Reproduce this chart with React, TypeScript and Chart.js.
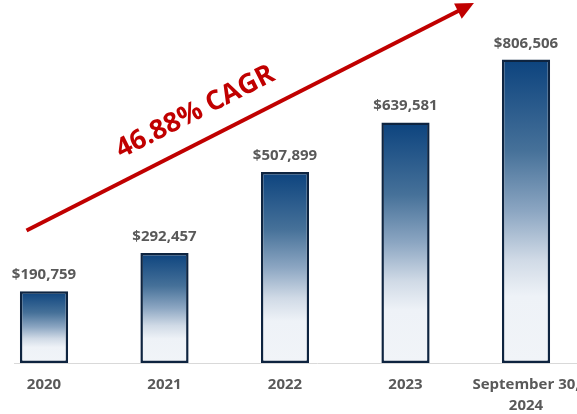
import React, { useEffect, useRef } from "react";
import { Chart, registerables } from "chart.js";

Chart.register(...registerables);

const categories: string[][] = [["2020"], ["2021"], ["2022"], ["2023"], ["September 30,", "2024"]];
const values: number[] = [190759, 292457, 507899, 639581, 806506];
const cagrLabel = "46.88% CAGR";

// annotation anchors in data coordinates (x = category index, y = value)
const arrowStart = { x: -0.145, y: 352000 };
const arrowEnd = { x: 3.568, y: 957000 };
const cagrTextAt = { x: 1.255, y: 667000 };

const RED = "#c00000";
const GRAY = "#595959";

const fmt = (v: number) => "$" + v.toLocaleString("en-US");

const labelsPlugin = {
  id: "barLabels",
  afterDatasetsDraw(chart: any) {
    const ctx = chart.ctx;
    const meta = chart.getDatasetMeta(0);
    ctx.save();
    ctx.font = "bold 15px 'Open Sans'";
    ctx.fillStyle = GRAY;
    ctx.textAlign = "center";
    ctx.textBaseline = "alphabetic";
    meta.data.forEach((bar: any, i: number) => {
      ctx.fillText(fmt(values[i]), bar.x, bar.y - 12);
    });
    ctx.restore();
  },
};

const cagrPlugin = {
  id: "cagrArrow",
  afterDraw(chart: any) {
    const { ctx, scales } = chart;
    const x = scales.x, y = scales.y;
    const x1 = x.getPixelForValue(arrowStart.x), y1 = y.getPixelForValue(arrowStart.y);
    const x2 = x.getPixelForValue(arrowEnd.x), y2 = y.getPixelForValue(arrowEnd.y);
    const ang = Math.atan2(y2 - y1, x2 - x1);
    const headLen = 18, headHalf = 8.5;
    const bx = x2 - headLen * Math.cos(ang), by = y2 - headLen * Math.sin(ang);
    ctx.save();
    ctx.strokeStyle = RED;
    ctx.fillStyle = RED;
    ctx.lineWidth = 4;
    ctx.beginPath();
    ctx.moveTo(x1, y1);
    ctx.lineTo(bx + 2 * Math.cos(ang), by + 2 * Math.sin(ang));
    ctx.stroke();
    ctx.beginPath();
    ctx.moveTo(x2, y2);
    ctx.lineTo(bx - headHalf * Math.sin(ang), by + headHalf * Math.cos(ang));
    ctx.lineTo(bx + headHalf * Math.sin(ang), by - headHalf * Math.cos(ang));
    ctx.closePath();
    ctx.fill();
    const tx = x.getPixelForValue(cagrTextAt.x), ty = y.getPixelForValue(cagrTextAt.y);
    ctx.translate(tx, ty);
    ctx.rotate(ang);
    ctx.font = "bold 27px 'Open Sans'";
    ctx.textAlign = "center";
    ctx.textBaseline = "middle";
    ctx.fillText(cagrLabel, 0, 0);
    ctx.restore();
  },
};

export default function App() {
  const ref = useRef<HTMLCanvasElement | null>(null);
  useEffect(() => {
    document.body.style.overflow = "hidden";
    document.documentElement.style.overflow = "hidden";
    const canvas = ref.current!;
    const chart = new Chart(canvas, {
      type: "bar",
      data: {
        datasets: [
          {
            data: values.map((v, i) => ({ x: i, y: v })),
            backgroundColor: (c: any) => {
              if (c.type !== "data") return "#1f4e79";
              const ch = c.chart;
              const ys = ch.scales && ch.scales.y;
              if (!ys) return "#1f4e79";
              const top = ys.getPixelForValue(values[c.dataIndex]);
              const bot = ys.getPixelForValue(0);
              if (!isFinite(top) || !isFinite(bot) || top === bot) return "#1f4e79";
              const g = ch.ctx.createLinearGradient(0, top, 0, bot);
              g.addColorStop(0, "#0c437e");
              g.addColorStop(0.3, "#467199");
              g.addColorStop(0.5, "#8ca6c2");
              g.addColorStop(0.66, "#d0dae6");
              g.addColorStop(0.78, "#eef2f7");
              g.addColorStop(1, "#f1f4f8");
              return g;
            },
            borderColor: "#0e2440",
            borderWidth: 2.5,
            borderSkipped: false,
            barPercentage: 0.4,
            categoryPercentage: 1,
          },
        ],
      },
      options: {
        responsive: false,
        animation: false,
        layout: { padding: { left: 14, right: 0, top: 0, bottom: 0 } },
        plugins: { legend: { display: false }, tooltip: { enabled: false } },
        scales: {
          x: {
            type: "linear",
            min: -0.249,
            max: 4.78,
            offset: false,
            grid: { display: false, drawTicks: false },
            border: { display: true, color: "#d9d9d9", width: 1 },
            afterBuildTicks: (axis: any) => {
              axis.ticks = categories.map((_, i) => ({ value: i }));
            },
            afterFit: (axis: any) => {
              axis.height = 51;
            },
            ticks: {
              autoSkip: false,
              maxRotation: 0,
              minRotation: 0,
              padding: 11,
              color: GRAY,
              font: { family: "'Open Sans'", size: 15, weight: "bold", lineHeight: 1.4 },
              callback: (v: any) => categories[v as number] ?? "",
            },
          },
          y: { display: false, min: 0, max: 965000 },
        },
      },
      plugins: [labelsPlugin, cagrPlugin],
    } as any);
    return () => chart.destroy();
  }, []);
  return (
    <div style={{ position: "fixed", left: 0, top: 0, width: 620, height: 414, background: "#fff" }}>
      <canvas ref={ref} width={620} height={414} style={{ display: "block", width: 620, height: 414 }} />
    </div>
  );
}
